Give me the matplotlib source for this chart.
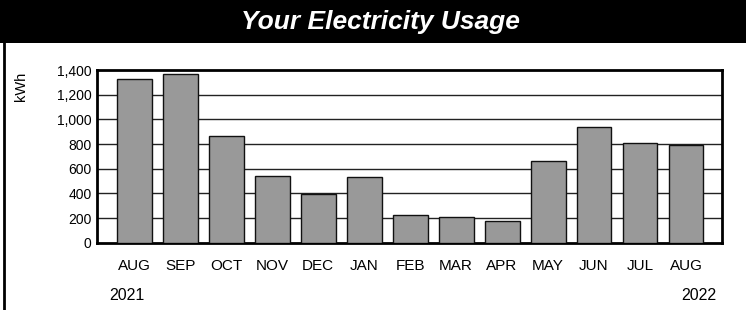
import matplotlib
matplotlib.use("Agg")
import matplotlib.pyplot as plt
from matplotlib.lines import Line2D
from matplotlib.patches import Rectangle

months = ["AUG", "SEP", "OCT", "NOV", "DEC", "JAN", "FEB", "MAR", "APR", "MAY", "JUN", "JUL", "AUG"]
usage_kwh = [1327, 1370, 866, 543, 392, 535, 227, 206, 173, 665, 940, 810, 789]
y_ticks = [0, 200, 400, 600, 800, 1000, 1200, 1400]
y_tick_labels = ["0", "200", "400", "600", "800", "1,000", "1,200", "1,400"]
start_year = "2021"
end_year = "2022"
title = "Your Electricity Usage"
y_label = "kWh"

plt.rcParams["font.family"] = ["Liberation Sans", "DejaVu Sans"]

W, H = 746, 310
fig = plt.figure(figsize=(W / 100, H / 100), dpi=100)
fig.patch.set_facecolor("white")

# header band
fig.add_artist(Rectangle((0, 1 - 43 / H), 1, 43 / H, transform=fig.transFigure,
                         facecolor="black", edgecolor="none"))
fig.text(380 / W, 1 - 22 / H, title, color="white", fontsize=19, fontweight="bold",
         fontstyle="italic", ha="center", va="center")
# left border
fig.add_artist(Line2D([4.3 / W, 4.3 / W], [0, 1 - 40 / H], transform=fig.transFigure,
                      color="black", lw=2.0))

ax = fig.add_axes([97 / W, 1 - 242.7 / H, (722.3 - 97) / W, (242.7 - 70) / H])
x = list(range(len(months)))
ax.bar(x, usage_kwh, width=0.76, color="#999999", edgecolor="#111111", linewidth=1.0, zorder=3)
ax.set_xlim(-0.81, 12.79)
ax.set_ylim(0, 1400)
ax.set_yticks(y_ticks)
ax.set_yticklabels(y_tick_labels, fontsize=10)
ax.set_xticks(x)
ax.set_xticklabels(months, fontsize=11)
ax.tick_params(axis="y", length=0, pad=4)
ax.tick_params(axis="x", length=0, pad=11.5)
for v in y_ticks[1:-1]:
    ax.axhline(v, color="#222222", lw=1.0, zorder=1)
for s in ax.spines.values():
    s.set_linewidth(2.0)
    s.set_color("black")
ax.set_zorder(2)

fig.text(21 / W, 1 - 86 / H, y_label, rotation=90, fontsize=10.5, ha="center", va="center")
fig.text(109 / W, 1 - 295.5 / H, start_year, fontsize=11.5, ha="left", va="center")
fig.text(716 / W, 1 - 295.5 / H, end_year, fontsize=11.5, ha="right", va="center")

fig.savefig("out.png", dpi=100)
